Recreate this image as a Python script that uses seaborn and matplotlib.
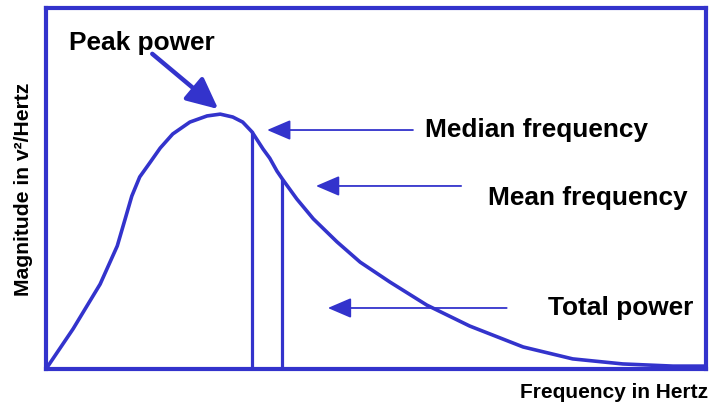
import numpy as np
import pandas as pd
import matplotlib
matplotlib.use("Agg")
import matplotlib.pyplot as plt
import seaborn as sns

# power spectrum curve (frequency 0-100, magnitude 0-100)
frequency = [0, 4.1, 8.2, 10.8, 12.0, 13.0, 14.2, 15.8, 17.3, 19.2, 21.8, 24.4,
             26.4, 28.3, 29.8, 31.2, 32.9, 33.9, 35.0, 35.9, 38.0, 40.5, 44.1,
             47.6, 52.1, 57.7, 64.2, 72.3, 79.8, 87.4, 95.0, 100]
magnitude = [0, 11.1, 23.5, 34.1, 41.6, 47.9, 53.2, 57.3, 61.2, 65.1, 68.4, 70.1,
             70.6, 69.8, 68.4, 65.7, 60.9, 58.4, 54.8, 52.4, 47.1, 41.6, 35.2,
             29.6, 24.1, 17.7, 11.9, 6.1, 2.8, 1.4, 0.8, 0.8]

# median / mean frequency markers (x, height of the vertical line)
marker_freq = [31.2, 35.8]
marker_height = [66.0, 52.6]

# annotations: label, arrow tip (x, y), arrow tail x, text position
labels = ["Median frequency", "Mean frequency", "Total power"]
tip_x = [33.5, 40.9, 42.7]
tip_y = [66.2, 50.7, 16.9]
tail_x = [55.6, 62.9, 69.8]
text_x = [57.4, 67.0, 76.1]
text_y = [64.5, 45.7, 15.2]

peak_label = "Peak power"
peak_tip = (26.1, 72.0)
peak_tail = (16.1, 87.3)
peak_text = (3.5, 88.6)

blue = "#3333cc"

sns.set_theme(style="white")
plt.rcParams["font.family"] = ["Liberation Sans", "DejaVu Sans"]

fig = plt.figure(figsize=(7.13, 4.10), dpi=100)
ax = fig.add_axes([46 / 713, 1 - 370 / 410, 660 / 713, 361 / 410])

df = pd.DataFrame({"freq": frequency, "mag": magnitude})
sns.lineplot(data=df, x="freq", y="mag", color=blue, linewidth=2.6, ax=ax)
for ln in ax.lines:
    ln.set_solid_joinstyle("round")
    ln.set_solid_capstyle("round")

# vertical lines for median and mean frequency
for fx, fh in zip(marker_freq, marker_height):
    ax.plot([fx, fx], [0, fh], color=blue, linewidth=2.3, solid_capstyle="butt")

# horizontal arrows
for lab, tx, ty, sx, lx, ly in zip(labels, tip_x, tip_y, tail_x, text_x, text_y):
    ax.annotate("", xy=(tx, ty), xytext=(sx, ty),
                arrowprops=dict(arrowstyle="-|>,head_length=1.45,head_width=0.62",
                                color=blue, lw=1.3, shrinkA=0, shrinkB=0,
                                mutation_scale=10))
    ax.text(lx, ly, lab, fontsize=18.9, fontweight="bold", color="black",
            ha="left", va="baseline")

# peak power arrow
ax.annotate("", xy=peak_tip, xytext=peak_tail,
            arrowprops=dict(arrowstyle="-|>,head_length=1.9,head_width=0.9",
                            color=blue, lw=3.2, shrinkA=0, shrinkB=0,
                            mutation_scale=10))
ax.text(peak_text[0], peak_text[1], peak_label, fontsize=18.9, fontweight="bold",
        color="black", ha="left", va="baseline")

ax.set_xlim(0, 100)
ax.set_ylim(0, 100)
ax.set_xticks([])
ax.set_yticks([])
for sp in ax.spines.values():
    sp.set_visible(True)
    sp.set_color(blue)
    sp.set_linewidth(3)

ax.set_ylabel("Magnitude in v²/Hertz", fontsize=15.2, fontweight="bold", color="black")
ax.yaxis.set_label_coords(-0.02, 0.5)
ax.set_xlabel("Frequency in Hertz", fontsize=15, fontweight="bold", color="black",
              loc="right")
ax.xaxis.set_label_coords(1.003, -0.037)
ax.xaxis.label.set_verticalalignment("top")

fig.savefig("out.png", dpi=100)
